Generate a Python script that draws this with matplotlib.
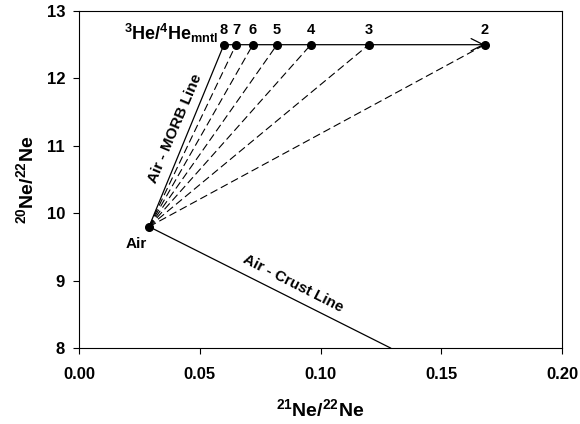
import numpy as np
import matplotlib.pyplot as plt

plt.rcParams['font.family'] = ['Liberation Sans', 'DejaVu Sans']
plt.rcParams['font.weight'] = 'bold'
plt.rcParams['axes.labelweight'] = 'bold'
plt.rcParams['mathtext.fontset'] = 'custom'
plt.rcParams['mathtext.rm'] = 'Liberation Sans:bold'
plt.rcParams['mathtext.bf'] = 'Liberation Sans:bold'
plt.rcParams['mathtext.it'] = 'Liberation Sans:bold'

# air composition
air = (0.029, 9.8)

# mantle end-members labelled by 3He/4He
mantle_labels = ['8', '7', '6', '5', '4', '3', '2']
mantle_x = [0.060, 0.065, 0.072, 0.082, 0.096, 0.120, 0.168]
mantle_y = 12.5

# air - crust line end
crust_end = (0.129, 8.0)

fig = plt.figure(figsize=(5.8, 4.24), dpi=100)
ax = fig.add_axes([79 / 580, 1 - 348 / 424, 483 / 580, 337 / 424])

# air - MORB line (solid) and mixing lines to the other end-members (dashed)
ax.plot([air[0], mantle_x[0]], [air[1], mantle_y], color='black', lw=0.9)
for mx in mantle_x[1:]:
    ax.plot([air[0], mx], [air[1], mantle_y], color='black', lw=0.8,
            dashes=(7, 3.5))

# horizontal line with arrow towards the low 3He/4He end
ax.annotate('', xy=(mantle_x[-1], mantle_y), xytext=(mantle_x[0], mantle_y),
            arrowprops=dict(arrowstyle='->', color='black', lw=0.9,
                            mutation_scale=22, shrinkA=0, shrinkB=0))

ax.plot([air[0], crust_end[0]], [air[1], crust_end[1]], color='black', lw=0.9)

ax.plot(mantle_x, [mantle_y] * len(mantle_x), 'o', color='black', ms=5.5)
ax.plot(*air, 'o', color='black', ms=5.5)

for lab, mx in zip(mantle_labels, mantle_x):
    ax.text(mx, mantle_y + 0.12, lab, ha='center', va='bottom', fontsize=10.5)

ax.text(mantle_x[0] - 0.0025, mantle_y + 0.0, r'$^{3}$He/$^{4}$He$_{mntl}$',
        ha='right', va='bottom', fontsize=13)
ax.text(air[0] - 0.001, air[1] - 0.15, 'Air', ha='right', va='top', fontsize=11)
ax.text(0.0398, 11.26, 'Air - MORB Line', rotation=67, ha='center', va='center',
        fontsize=11)
ax.text(0.0885, 8.95, 'Air - Crust Line', rotation=-27, ha='center', va='center',
        fontsize=11)

ax.set_xlim(0, 0.20)
ax.set_ylim(8, 13)
ax.set_xticks([0.00, 0.05, 0.10, 0.15, 0.20])
ax.set_xticklabels(['0.00', '0.05', '0.10', '0.15', '0.20'])
ax.set_yticks([8, 9, 10, 11, 12, 13])
ax.tick_params(direction='out', length=4, width=0.8, labelsize=12,
               top=False, right=False, pad=6)
ax.tick_params(axis='x', pad=9.5)
for s in ax.spines.values():
    s.set_linewidth(0.8)

ax.set_xlabel(r'$^{21}$Ne/$^{22}$Ne', fontsize=14, labelpad=11.5)
ax.set_ylabel(r'$^{20}$Ne/$^{22}$Ne', fontsize=14, labelpad=7)

fig.savefig('out.png', dpi=100)
